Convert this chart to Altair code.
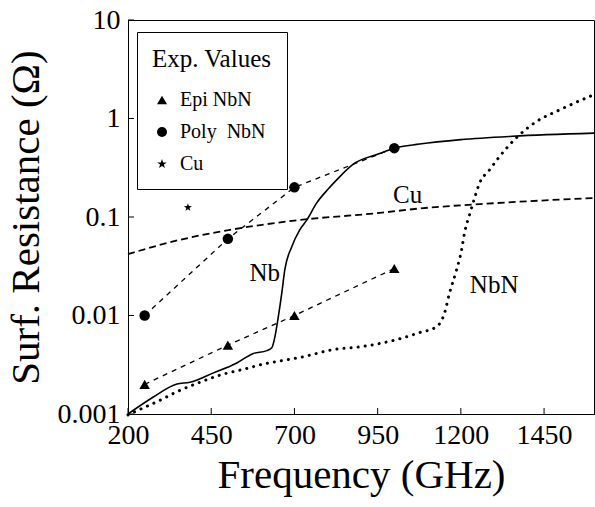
import altair as alt
import pandas as pd

# Measured surface resistance (Ohm) vs frequency (GHz)
epi_freq = [250, 500, 700, 1000]
epi_rs = [0.002, 0.005, 0.01, 0.03]
poly_freq = [250, 500, 700, 1000]
poly_rs = [0.01, 0.06, 0.2, 0.5]
cu_exp_freq = [380]
cu_exp_rs = [0.125]

# Calculated curves
nb_freq = [200, 275, 347, 386, 455, 527, 575, 617, 632, 641, 650, 662, 671, 692,
           716, 737, 767, 800, 827, 875, 956, 1000, 1076, 1200, 1355, 1600]
nb_rs = [0.001, 0.00148, 0.00202, 0.0021, 0.0026, 0.0033, 0.0041, 0.0044, 0.0047,
         0.006, 0.009, 0.0169, 0.029, 0.05, 0.074, 0.093, 0.139, 0.19, 0.238, 0.34,
         0.44, 0.5, 0.55, 0.61, 0.66, 0.71]
nbn_freq = [200, 250, 300, 350, 416, 480, 557, 605, 665, 725, 815, 896, 1016, 1076,
            1127, 1151, 1166, 1187, 1202, 1211, 1226, 1241, 1256, 1286, 1316, 1361,
            1427, 1496, 1600]
nbn_rs = [0.00098, 0.00117, 0.0014, 0.0017, 0.0021, 0.0025, 0.0029, 0.0032, 0.0035,
          0.0038, 0.0045, 0.0048, 0.0058, 0.0067, 0.0077, 0.0106, 0.0169, 0.029,
          0.046, 0.069, 0.105, 0.155, 0.22, 0.3, 0.41, 0.61, 0.93, 1.22, 1.75]
cu_freq = [200, 350, 506, 700, 956, 1076, 1300, 1600]
cu_rs = [0.042, 0.058, 0.074, 0.092, 0.11, 0.122, 0.138, 0.156]

x_ticks = [200, 450, 700, 950, 1200, 1450]
y_ticks = [0.001, 0.01, 0.1, 1, 10]

curve_labels = ["Nb", "NbN", "Cu"]
label_freq = [611, 1300, 1040]
label_rs = [0.027, 0.0204, 0.167]

series_names = ["Epi NbN", "Poly NbN", "Cu"]
FONT = "Liberation Serif"
W, H = 466, 394

# five-pointed star as a custom symbol path
STAR = ("M0,-1L0.235,-0.324L0.951,-0.309L0.38,0.124L0.588,0.809L0,0.4"
        "L-0.588,0.809L-0.38,0.124L-0.951,-0.309L-0.235,-0.324Z")

exp_df = pd.concat([
    pd.DataFrame({"f": epi_freq, "r": epi_rs, "s": "Epi NbN"}),
    pd.DataFrame({"f": poly_freq, "r": poly_rs, "s": "Poly NbN"}),
], ignore_index=True)
cu_exp_df = pd.DataFrame({"f": cu_exp_freq, "r": cu_exp_rs, "s": "Cu"})
nb_df = pd.DataFrame({"f": nb_freq, "r": nb_rs})
nbn_df = pd.DataFrame({"f": nbn_freq, "r": nbn_rs})
cu_df = pd.DataFrame({"f": cu_freq, "r": cu_rs})
lab_df = pd.DataFrame({"t": curve_labels, "f": label_freq, "r": label_rs})
xt_df = pd.DataFrame({"f": x_ticks})
yt_df = pd.DataFrame({"r": y_ticks})

x_scale = alt.Scale(domain=[200, 1600], nice=False, zero=False)
y_scale = alt.Scale(type="log", domain=[0.001, 10], nice=False)

X = alt.X("f:Q", scale=x_scale, title="Frequency (GHz)",
          axis=alt.Axis(values=x_ticks, format="d", ticks=False, grid=False,
                        labelFont=FONT, labelFontSize=28, labelPadding=7,
                        labelFlush=False, labelOverlap=False, labelColor="black",
                        domainColor="black", titleFont=FONT, titleFontSize=41,
                        titleFontWeight="normal", titleColor="black",
                        titleBaseline="alphabetic", titleX=W / 2, titleY=73))
Y = alt.Y("r:Q", scale=y_scale, title="Surf. Resistance (Ω)",
          axis=alt.Axis(values=y_ticks, format=".3~f", ticks=False, grid=False,
                        labelFont=FONT, labelFontSize=28, labelPadding=8,
                        labelOverlap=False, labelFlush=False, labelColor="black",
                        domainColor="black", titleFont=FONT, titleFontSize=41,
                        titleFontWeight="normal", titleColor="black",
                        titleBaseline="alphabetic", titleX=-90, titleY=H / 2))

base_x = alt.X("f:Q", scale=x_scale)
base_y = alt.Y("r:Q", scale=y_scale)

# Calculated curves
nb_layer = alt.Chart(nb_df).mark_line(
    color="black", strokeWidth=1.6, interpolate="monotone"
).encode(x=X, y=Y)

cu_layer = alt.Chart(cu_df).mark_line(
    color="black", strokeWidth=1.8, strokeDash=[7, 4], interpolate="monotone"
).encode(x=base_x, y=base_y)

nbn_layer = alt.Chart(nbn_df).mark_line(
    color="black", strokeWidth=3, strokeDash=[0.1, 7], strokeCap="round",
    interpolate="monotone"
).encode(x=base_x, y=base_y)

# Measured values joined by dashed lines
exp_line_layer = alt.Chart(exp_df).mark_line(
    color="black", strokeWidth=1.3, strokeDash=[5, 5]
).encode(x=base_x, y=base_y, detail="s:N")

points = alt.Chart(exp_df).mark_point(
    filled=True, opacity=1, color="black", size=110
).encode(
    x=base_x, y=base_y,
    shape=alt.Shape("s:N", scale=alt.Scale(domain=series_names,
                                           range=["triangle-up", "circle", STAR]),
                    legend=alt.Legend(title="Exp. Values", orient="none",
                                      legendX=9, legendY=12, padding=15,
                                      strokeColor="black", fillColor="white",
                                      titleFont=FONT, titleFontSize=25,
                                      titleFontWeight="normal", titleColor="black",
                                      titlePadding=18, labelFont=FONT,
                                      labelFontSize=20, labelColor="black",
                                      labelOffset=8, rowPadding=12, symbolSize=100,
                                      symbolFillColor="black",
                                      symbolStrokeColor="black",
                                      labelExpr="datum.label == 'Poly NbN' ? "
                                                "'Poly\u00a0\u00a0NbN' : datum.label")),
)

cu_point = alt.Chart(cu_exp_df).mark_point(
    filled=True, opacity=1, color="black", size=70, shape=STAR
).encode(x=base_x, y=base_y)

labels = alt.Chart(lab_df).mark_text(
    font=FONT, fontSize=25, color="black"
).encode(x=base_x, y=base_y, text="t:N")

x_tick_marks = alt.Chart(xt_df).mark_rule(color="black", strokeWidth=1).encode(
    x=base_x, y=alt.value(H), y2=alt.value(H - 6))
y_tick_marks = alt.Chart(yt_df).mark_rule(color="black", strokeWidth=1).encode(
    y=base_y, x=alt.value(0), x2=alt.value(6))

chart = alt.layer(
    nb_layer, cu_layer, nbn_layer, exp_line_layer, x_tick_marks, y_tick_marks,
    labels, points, cu_point
).properties(
    width=W, height=H,
    padding={"left": 128, "top": 20, "right": 1, "bottom": 93},
    autosize=alt.AutoSizeParams(type="none"),
    background="white",
).configure_view(stroke="black", strokeWidth=1)

chart.save("out.html", embed_options={"renderer": "svg", "actions": False})
